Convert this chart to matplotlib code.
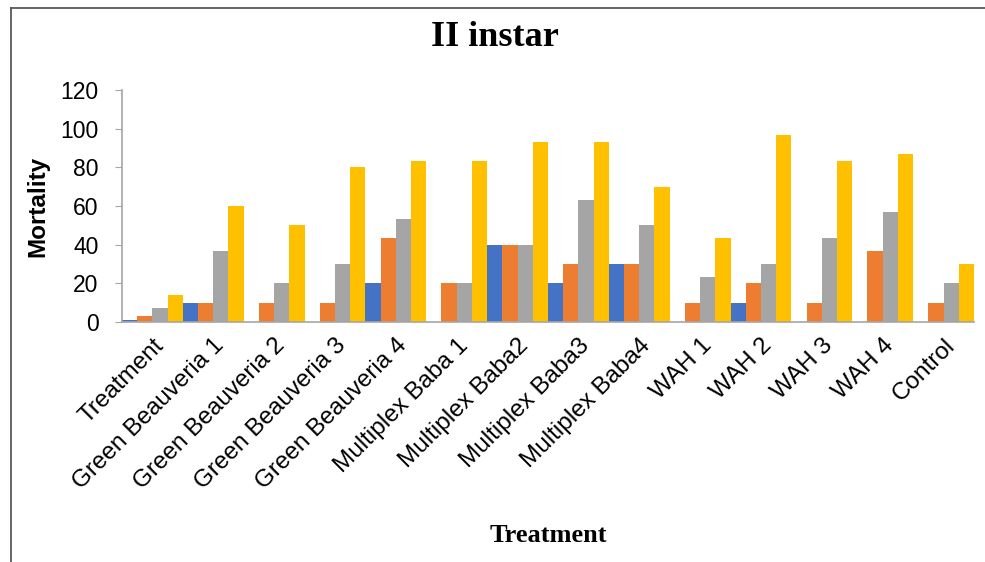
import numpy as np
import matplotlib.pyplot as plt
from matplotlib.lines import Line2D

# data
treatments = ["Treatment", "Green Beauveria 1", "Green Beauveria 2", "Green Beauveria 3",
              "Green Beauveria 4", "Multiplex Baba 1", "Multiplex Baba2", "Multiplex Baba3",
              "Multiplex Baba4", "WAH 1", "WAH 2", "WAH 3", "WAH 4", "Control"]
day1 = [1, 10, 0, 0, 20, 0, 40, 20, 30, 0, 10, 0, 0, 0]
day3 = [3, 10, 10, 10, 43.33, 20, 40, 30, 30, 10, 20, 10, 36.67, 10]
day7 = [7, 36.67, 20, 30, 53.33, 20, 40, 63.33, 50, 23.33, 30, 43.33, 56.67, 20]
day14 = [14, 60, 50, 80, 83.33, 83.33, 93.33, 93.33, 70, 43.33, 96.67, 83.33, 86.67, 30]

series = [day1, day3, day7, day14]
colors = ['#4472C4', '#ED7D31', '#A5A5A5', '#FFC000']

fig = plt.figure(figsize=(9.85, 5.62), dpi=100)
ax = fig.add_axes([122/985, 1 - 322/562, 852/985, 232/562])

x = np.arange(len(treatments))
w = 0.25
for i, (vals, c) in enumerate(zip(series, colors)):
    ax.bar(x + (i - 1.5) * w, vals, w, color=c, linewidth=0)

ax.set_xlim(-0.5, len(treatments) - 0.5)
ax.set_ylim(0, 120)
ax.set_yticks(np.arange(0, 121, 20))
ax.set_xticks(x)
ax.set_xticklabels(treatments, rotation=45, ha='right', va='top',
                   rotation_mode='anchor', fontsize=17.5, family='Liberation Sans')
ax.tick_params(axis='x', length=0, pad=9)
ax.tick_params(axis='y', length=5, color='#a6a6a6', labelsize=16.5, pad=12)
for lab in ax.get_yticklabels():
    lab.set_family('Liberation Sans')

for s in ['top', 'right']:
    ax.spines[s].set_visible(False)
for s in ['left', 'bottom']:
    ax.spines[s].set_color('#a6a6a6')
    ax.spines[s].set_linewidth(1.2)

ax.set_ylabel("Mortality", fontsize=17.5, fontweight='bold', family='Liberation Sans', labelpad=8)
fig.text(495/985, 1 - 38/562, "II instar", ha='center', va='center',
         fontsize=26, fontweight='bold', family='Liberation Serif')
fig.text(548/985, 1 - 535/562, "Treatment", ha='center', va='center',
         fontsize=19, fontweight='bold', family='Liberation Serif')

# outer frame of the chart area
fig.add_artist(Line2D([11/985, 11/985], [0, 1 - 8/562], transform=fig.transFigure,
                      color='#595959', linewidth=1.3))
fig.add_artist(Line2D([11/985, 1], [1 - 8/562, 1 - 8/562], transform=fig.transFigure,
                      color='#595959', linewidth=1.3))

fig.savefig("out.png", dpi=100)
